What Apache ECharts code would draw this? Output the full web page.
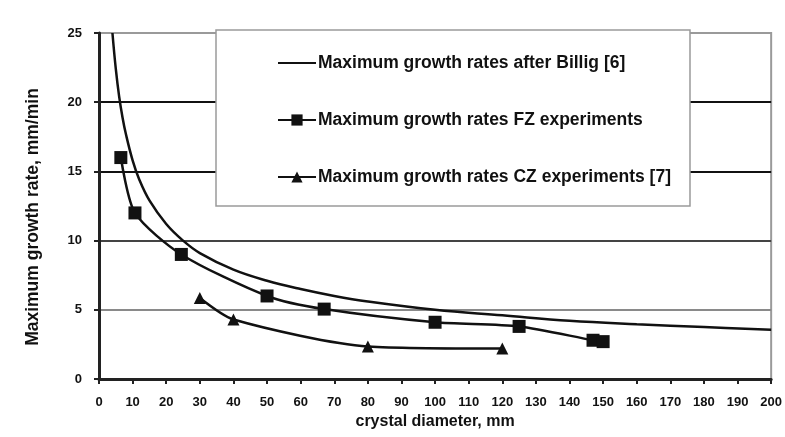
<!DOCTYPE html>
<html>
<head>
<meta charset="utf-8">
<script src="https://cdn.jsdelivr.net/npm/echarts@6/dist/echarts.min.js"></script>
<style>
  html, body { margin: 0; padding: 0; background: #fff; }
  #chart { width: 785px; height: 437px; }
</style>
</head>
<body>
<div id="chart"></div>
<script>
// Crystal diameter (mm) vs. maximum growth rate (mm/min)
const billigDiameter = [4, 5, 6, 7, 8, 10, 12, 15, 20, 25, 30, 40, 50, 60, 70, 80, 100, 120, 140, 160, 180, 200];
const billigRate     = [25, 22.4, 20.4, 18.9, 17.7, 15.8, 14.4, 12.9, 11.2, 10.0, 9.1, 7.9, 7.1, 6.5, 6.0, 5.6, 5.0, 4.6, 4.2, 3.95, 3.75, 3.55];

const fzDiameter = [6.5, 10.7, 24.5, 50, 67, 100, 125, 147, 150];
const fzRate     = [16.0, 12.0, 9.0, 6.0, 5.05, 4.1, 3.8, 2.8, 2.7];

const czDiameter = [30, 40, 80, 120];
const czRate     = [5.85, 4.3, 2.35, 2.2];

const seriesNames = [
  'Maximum growth rates after Billig [6]',
  'Maximum growth rates FZ experiments',
  'Maximum growth rates CZ experiments [7]'
];

const xTitle = 'crystal diameter, mm';
const yTitle = 'Maximum growth rate, mm/min';

const pairs = (xs, ys) => xs.map((x, i) => [x, ys[i]]);

const font = 'Liberation Sans, Arial, sans-serif';
const ink = '#111';

const chart = echarts.init(document.getElementById('chart'), null, { renderer: 'canvas' });

chart.setOption({
  animation: false,
  backgroundColor: '#fff',
  grid: {
    left: 99, right: 10, top: 33, bottom: 58,
    show: true, borderColor: '#9a9a9a', borderWidth: 2
  },
  legend: {
    left: 216, top: 30,
    orient: 'vertical',
    backgroundColor: '#fff',
    borderColor: '#9a9a9a',
    borderWidth: 1.5,
    padding: [24, 19, 20, 61],
    itemWidth: 38, itemHeight: 14, itemGap: 39,
    textStyle: { fontFamily: font, fontSize: 17.5, fontWeight: 'bold', color: ink, padding: [0, 0, 0, -3] },
    data: [
      { name: seriesNames[0], itemStyle: { opacity: 0 } },
      { name: seriesNames[1] },
      { name: seriesNames[2] }
    ]
  },
  xAxis: {
    type: 'value', min: 0, max: 200, interval: 10,
    name: xTitle, nameLocation: 'middle', nameGap: 31,
    nameTextStyle: { fontFamily: font, fontSize: 16, fontWeight: 'bold', color: ink },
    axisLine: { show: true, onZero: false, lineStyle: { color: '#222', width: 3 } },
    axisTick: { show: true, inside: false, length: 5, lineStyle: { color: '#222', width: 2 } },
    axisLabel: { fontFamily: font, fontSize: 13, fontWeight: 'bold', color: ink, margin: 17 },
    splitLine: { show: false }
  },
  yAxis: {
    type: 'value', min: 0, max: 25, interval: 5,
    name: yTitle, nameLocation: 'middle', nameGap: 57,
    nameTextStyle: { fontFamily: font, fontSize: 17.5, fontWeight: 'bold', color: ink, padding: [0, 22, 0, 0] },
    axisLine: { show: true, onZero: false, lineStyle: { color: '#222', width: 3 } },
    axisTick: { show: true, inside: false, length: 5, lineStyle: { color: '#222', width: 2 } },
    axisLabel: { fontFamily: font, fontSize: 13, fontWeight: 'bold', color: ink, margin: 17 },
    splitLine: {
      show: true,
      lineStyle: { color: ['#222', '#8a8a8a', '#444', '#111', '#111', '#9a9a9a'], width: 2 }
    }
  },
  series: [
    {
      name: seriesNames[0], type: 'line', data: pairs(billigDiameter, billigRate),
      smooth: 0.4, symbol: 'none',
      lineStyle: { color: '#111', width: 2.5 }, itemStyle: { color: '#111' }
    },
    {
      name: seriesNames[1], type: 'line', data: pairs(fzDiameter, fzRate),
      smooth: 0.25, symbol: 'rect', symbolSize: 13,
      lineStyle: { color: '#111', width: 2.5 }, itemStyle: { color: '#111' }
    },
    {
      name: seriesNames[2], type: 'line', data: pairs(czDiameter, czRate),
      smooth: 0.25, symbol: 'triangle', symbolSize: 12,
      lineStyle: { color: '#111', width: 2.5 }, itemStyle: { color: '#111' }
    }
  ]
});
</script>
</body>
</html>
